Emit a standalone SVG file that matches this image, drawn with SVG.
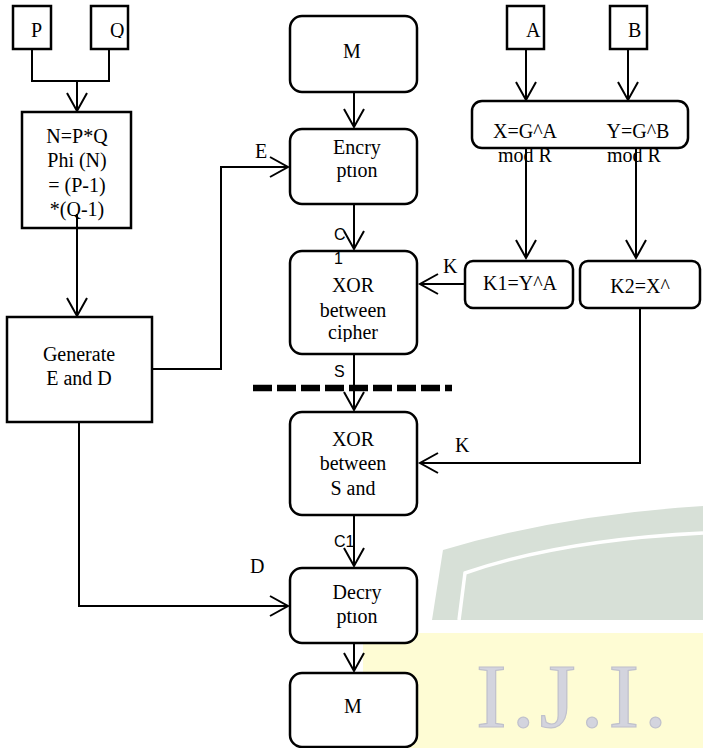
<svg xmlns="http://www.w3.org/2000/svg" width="703" height="748" viewBox="0 0 703 748">
<defs>
<style>
.box{fill:#fff;stroke:#000;stroke-width:2.5}
.ln{fill:none;stroke:#000;stroke-width:2}
.t{font-family:"Liberation Serif","Times New Roman",serif;font-size:20px;fill:#000;text-anchor:middle}
.lb{font-family:"Liberation Serif","Times New Roman",serif;font-size:20px;fill:#000}
.sl{font-family:"Liberation Sans",Arial,sans-serif;font-size:16px;fill:#000}
</style>
<marker id="ah" markerUnits="userSpaceOnUse" markerWidth="24" markerHeight="24" viewBox="-20 -12 24 24" refX="0" refY="0" orient="auto">
<path d="M-18,-10 L0,0 L-18,10" fill="none" stroke="#000" stroke-width="2"/>
</marker>
<clipPath id="cq"><rect x="0" y="0" width="703" height="38"/></clipPath>
<clipPath id="ce"><rect x="0" y="165" width="703" height="40"/></clipPath>
<clipPath id="cd"><rect x="0" y="611" width="703" height="40"/></clipPath>
<clipPath id="cc"><rect x="0" y="300" width="703" height="42"/></clipPath>
</defs>
<rect width="703" height="748" fill="#fff"/>
<g id="watermark">
<path d="M432,620 L443,550 Q560,515 703,506 L703,620 Z" fill="#d7e0d7"/>
<path d="M459,620 L465,573 Q560,540 703,533" fill="none" stroke="#fff" stroke-width="3.5"/>
<rect x="363" y="633" width="340" height="115" fill="#fefcd4"/>
<text x="476" y="727" font-family="Liberation Serif,serif" font-size="92" fill="#d3d4de" stroke="#c0c1cc" stroke-width="1.2" letter-spacing="5">I.J.I.</text>
</g>
<g id="nodeP">
<rect class="box" x="13" y="6" width="38" height="43"/>
<text class="lb" x="31" y="37">P</text>
</g>
<g id="nodeQ">
<rect class="box" x="91" y="6" width="37" height="43"/>
<text class="lb" x="110" y="37" clip-path="url(#cq)">Q</text>
</g>
<g id="nodeN">
<rect class="box" x="22" y="112" width="109" height="116"/>
<text class="t" x="77" y="143">N=P*Q</text>
<text class="t" x="77" y="167">Phi (N)</text>
<text class="t" x="77" y="192">= (P-1)</text>
<text class="t" x="77" y="216">*(Q-1)</text>
</g>
<g id="nodeGen">
<rect class="box" x="7" y="317" width="145" height="105"/>
<text class="t" x="79" y="361">Generate</text>
<text class="t" x="79" y="385">E and D</text>
</g>
<g id="nodeM1">
<rect class="box" x="290" y="16" width="127" height="76" rx="12"/>
<text class="t" x="352" y="58">M</text>
</g>
<g id="nodeEnc">
<rect class="box" x="290" y="129" width="127" height="75" rx="12"/>
<text class="t" x="357" y="154">Encry</text>
<text class="t" x="357" y="177" clip-path="url(#ce)">ption</text>
</g>
<g id="nodeXOR1">
<rect class="box" x="290" y="251" width="127" height="103" rx="12"/>
<text class="t" x="353" y="292">XOR</text>
<text class="t" x="353" y="317">between</text>
<text class="t" x="353" y="339" clip-path="url(#cc)">cipher</text>
</g>
<g id="nodeXOR2">
<rect class="box" x="290" y="412" width="127" height="103" rx="12"/>
<text class="t" x="353" y="446">XOR</text>
<text class="t" x="353" y="470">between</text>
<text class="t" x="353" y="495">S and</text>
</g>
<g id="nodeDec">
<rect class="box" x="290" y="568" width="127" height="75" rx="12"/>
<text class="t" x="357" y="599">Decry</text>
<text class="t" x="357" y="623" clip-path="url(#cd)">ption</text>
</g>
<g id="nodeM2">
<rect class="box" x="290" y="673" width="127" height="74" rx="12"/>
<text class="t" x="353" y="713">M</text>
</g>
<g id="nodeA">
<rect class="box" x="507" y="6" width="37" height="43"/>
<text class="lb" x="526" y="37">A</text>
</g>
<g id="nodeB">
<rect class="box" x="610" y="6" width="37" height="43"/>
<text class="lb" x="628" y="37">B</text>
</g>
<g id="nodeXY">
<rect class="box" x="472" y="101" width="216" height="47" rx="10"/>
<text class="t" x="525" y="138">X=G^A</text>
<text class="t" x="638" y="138">Y=G^B</text>
<text class="t" x="525" y="162">mod R</text>
<text class="t" x="634" y="162">mod R</text>
</g>
<g id="nodeK1">
<rect class="box" x="465" y="261" width="108" height="47" rx="8"/>
<text class="t" x="520" y="290">K1=Y^A</text>
</g>
<g id="nodeK2">
<rect class="box" x="580" y="261" width="120" height="47" rx="8"/>
<text class="t" x="640" y="293">K2=X^</text>
</g>
<g id="connectors">
<path class="ln" d="M32,49 V81 H109 V49"/>
<path class="ln" d="M77,81 V111" marker-end="url(#ah)"/>
<path class="ln" d="M77,214 V316" marker-end="url(#ah)"/>
<path class="ln" d="M152,369 H221 V167 H288" marker-end="url(#ah)"/>
<path class="ln" d="M79,422 V606 H288" marker-end="url(#ah)"/>
<path class="ln" d="M354,92 V127" marker-end="url(#ah)"/>
<path class="ln" d="M354,204 V249" marker-end="url(#ah)"/>
<path class="ln" d="M354,354 V410" marker-end="url(#ah)"/>
<path class="ln" d="M354,515 V566" marker-end="url(#ah)"/>
<path class="ln" d="M354,643 V671" marker-end="url(#ah)"/>
<path class="ln" d="M526,49 V100" marker-end="url(#ah)"/>
<path class="ln" d="M628,49 V100" marker-end="url(#ah)"/>
<path class="ln" d="M526,147 V258" marker-end="url(#ah)"/>
<path class="ln" d="M636,147 V258" marker-end="url(#ah)"/>
<path class="ln" d="M465,284 H420" marker-end="url(#ah)"/>
<path class="ln" d="M640,308 V463 H420" marker-end="url(#ah)"/>
<line x1="253" y1="388" x2="452" y2="388" stroke="#000" stroke-width="6.5" stroke-dasharray="19 5"/>
<text class="lb" x="255" y="158">E</text>
<text class="lb" x="443" y="273">K</text>
<text class="lb" x="455" y="452">K</text>
<text class="lb" x="250" y="573">D</text>
<text class="sl" x="334" y="240">C</text>
<text class="sl" x="334" y="264">1</text>
<text class="sl" x="334" y="377">S</text>
<text class="sl" x="334" y="547">C1</text>
</g>
</svg>
